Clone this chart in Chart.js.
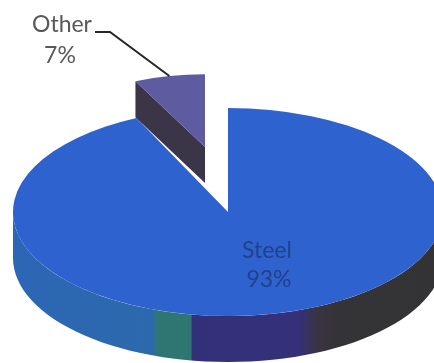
<!DOCTYPE html>
<html>
<head>
<meta charset="utf-8">
<script src="https://cdn.jsdelivr.net/npm/chart.js@4.4.0/dist/chart.umd.min.js"></script>
<style>
  html, body { margin: 0; padding: 0; background: #fff; }
  #wrap { width: 434px; height: 363px; position: relative; }
</style>
</head>
<body>
<div id="wrap"><canvas id="pie"></canvas></div>
<script>
// ===== Material share =====
const labels = ['Steel', 'Other']
const shares = [93, 7]

const topColors = ['#2e63cf', '#5f5ba0']

// ellipse the pie top is squashed onto, plus rim thickness
const tilt = { cx: 228, cy: 212, rx: 215, ry: 104 }
// per slice: how far it is pulled out and shrunk (Other sits further back)
const placement = [
  { dx: 0, dy: 0, sx: 1, sy: 1, depth: 46 },
  { dx: -23, dy: -65, sx: 0.76, sy: 0.70, depth: 36 }
]

function steelRim(ctx) {
  const g = ctx.createLinearGradient(0, 0, 434, 0)
  g.addColorStop(0, '#2c66b6')
  g.addColorStop(0.35, '#2c69ac')
  g.addColorStop(0.364, '#2f7672')
  g.addColorStop(0.44, '#2f7672')
  g.addColorStop(0.443, '#33307a')
  g.addColorStop(0.69, '#34307a')
  g.addColorStop(0.73, '#3a3442')
  g.addColorStop(0.78, '#343336')
  g.addColorStop(1, '#333335')
  return g
}
const sideFills = [steelRim, () => '#3b3547']

function drawSlice(ctx, arc, mv, sideFill) {
  const R = arc.outerRadius
  const P = (ang, r, drop) => [
    tilt.cx + mv.dx + mv.sx * tilt.rx * (r / R) * Math.cos(ang),
    tilt.cy + mv.dy + mv.sy * tilt.ry * (r / R) * Math.sin(ang) + drop
  ]
  const a0 = arc.startAngle, a1 = arc.endAngle, d = mv.depth
  ctx.save()
  ctx.fillStyle = sideFill(ctx)

  // straight cut faces turned towards the viewer
  const cut = a => {
    const pts = [P(a, 0, 0), P(a, R, 0), P(a, R, d), P(a, 0, d)]
    ctx.beginPath()
    pts.forEach((p, i) => i ? ctx.lineTo(p[0], p[1]) : ctx.moveTo(p[0], p[1]))
    ctx.closePath()
    ctx.fill()
  }
  if (Math.cos(a0) < -1e-6) cut(a0)
  if (Math.cos(a1) > 1e-6) cut(a1)

  // front part of the outer rim
  for (let k = -1; k <= 1; k++) {
    const lo = Math.max(a0, 2 * Math.PI * k)
    const hi = Math.min(a1, 2 * Math.PI * k + Math.PI)
    if (hi <= lo) continue
    const n = 60
    ctx.beginPath()
    for (let i = 0; i <= n; i++) {
      const p = P(lo + (hi - lo) * i / n, R, 0)
      i ? ctx.lineTo(p[0], p[1]) : ctx.moveTo(p[0], p[1])
    }
    for (let i = n; i >= 0; i--) {
      const p = P(lo + (hi - lo) * i / n, R, d)
      ctx.lineTo(p[0], p[1])
    }
    ctx.closePath()
    ctx.fill()
  }
  ctx.restore()

  // top face: the library's own arc, squashed onto the ellipse
  ctx.save()
  ctx.translate(tilt.cx + mv.dx, tilt.cy + mv.dy)
  ctx.scale(mv.sx * tilt.rx / R, mv.sy * tilt.ry / R)
  ctx.translate(-arc.x, -arc.y)
  arc.draw(ctx)
  ctx.restore()

  return P
}

const pie3d = {
  id: 'pie3d',
  beforeDatasetsDraw(chart) {
    const ctx = chart.ctx
    const arcs = chart.getDatasetMeta(0).data
    // back slices first
    const order = arcs.map((a, i) => i).sort((i, j) => placement[i].dy - placement[j].dy)
    const proj = []
    order.forEach(i => { proj[i] = drawSlice(ctx, arcs[i], placement[i], sideFills[i]) })
    chart.$proj = proj
    return false
  },
  afterDraw(chart) {
    const ctx = chart.ctx
    const arcs = chart.getDatasetMeta(0).data
    ctx.save()
    ctx.font = '23px Lato'
    ctx.textAlign = 'center'

    // Other: outside label with leader line
    const o = arcs[1]
    const mid = chart.$proj[1]((o.startAngle + o.endAngle) / 2, o.outerRadius, 0)
    ctx.strokeStyle = '#262626'
    ctx.lineWidth = 2
    ctx.beginPath()
    ctx.moveTo(95, 32)
    ctx.lineTo(110, 32)
    ctx.lineTo(mid[0], mid[1])
    ctx.stroke()
    ctx.fillStyle = '#595959'
    ctx.fillText(labels[1], 62, 32)
    ctx.fillText(shares[1] + '%', 60, 63)

    // Steel: inside label
    ctx.fillStyle = '#23408a'
    ctx.fillText(labels[0], 267, 258)
    ctx.fillText(shares[0] + '%', 269, 287)
    ctx.restore()
  }
}

new Chart(document.getElementById('pie'), {
  type: 'pie',
  data: {
    labels: labels,
    datasets: [{
      data: shares,
      backgroundColor: topColors,
      borderWidth: 0
    }]
  },
  options: {
    responsive: true,
    maintainAspectRatio: false,
    animation: false,
    events: [],
    radius: 150,
    layout: { padding: 0 },
    plugins: { legend: { display: false }, tooltip: { enabled: false } }
  },
  plugins: [pie3d]
})
</script>
</body>
</html>
